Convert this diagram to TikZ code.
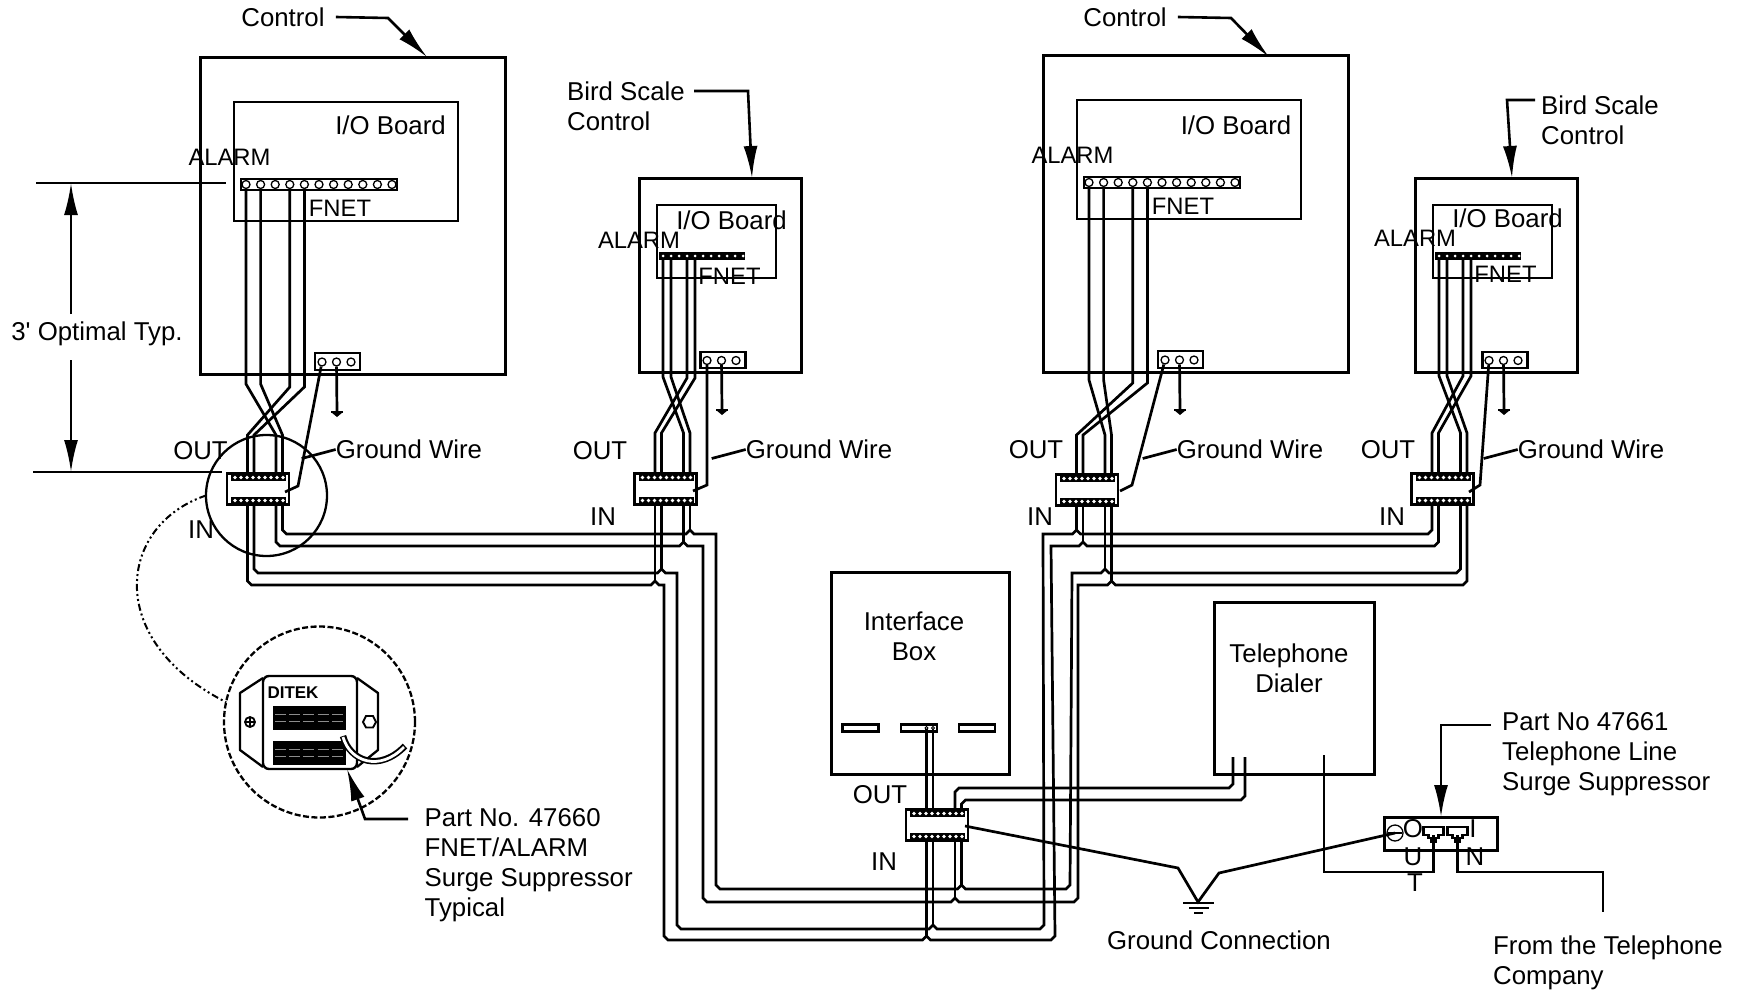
\documentclass[tikz,border=0pt]{standalone}
\usepackage{fontspec}
\setmainfont{Liberation Sans}
\usetikzlibrary{arrows.meta}

\newcommand{\hop}[2]{-- (#1-4,#2) -- (#1,#2-4) -- (#1+4,#2)}

\tikzset{
    lab/.style={inner sep=0pt, align=left, font=\fontsize{25.8}{30}\selectfont},
    smalllab/.style={inner sep=0pt, font=\fontsize{23.8}{28}\selectfont},
    wire/.style={line width=2.7pt, line join=miter},
    thinbox/.style={draw, line width=1.5pt, inner sep=0pt, outer sep=0pt},
    ctrlbox/.style={draw, line width=3pt, inner sep=0pt, outer sep=0pt},
    leader/.style={line width=2.6pt, -{Latex[length=32pt,width=14pt]}},
    bigpin/.style={circle, draw, fill=white, line width=1.3pt, inner sep=0pt, minimum size=8pt},
    tinypin/.style={circle, fill=white, inner sep=0pt, minimum size=3pt},
    surgebox/.style={draw, fill=white, line width=2.7pt, inner sep=0pt, minimum width=62pt, minimum height=31pt}
}

\begin{document}
\begin{tikzpicture}[x=1pt, y=-1pt]

\useasboundingbox (0,0) rectangle (1747,990);

\foreach \n/\dx/\dy/\tx/\ty in {1/0/0/0/0,3/843/-2/2.5/2}
{
    \begin{scope}[shift={(\dx,\dy)}]
    \node[ctrlbox, minimum width=305pt, minimum height=316pt] (ctrl\n) at (352.5,216) {};
    \node[thinbox, minimum width=224pt, minimum height=119pt] (io\n) at (346,161.5) {};
    \node[lab] (iotxt\n) at (390.5+\tx,125+\ty) {I/O Board};
    \node[smalllab] (alarm\n) at (229.5,157) {ALARM};
    \node[smalllab] (fnet\n) at (340,208) {FNET};
    \node[draw, line width=2.7pt, inner sep=0pt, minimum width=156pt, minimum height=11pt] (strip\n) at (319,184.5) {};
    \foreach \i in {1,...,11}
        \node[bigpin] (p\n-\i) at (231.4+14.6*\i,184.5) {};
    \node[draw, line width=2.7pt, inner sep=0pt, minimum width=45pt, minimum height=17pt] (gblock\n) at (337.5,361.5) {};
    \foreach \i in {1,2,3}
        \node[bigpin] (g\n-\i) at (307.5+14.5*\i,362) {};
    \draw[wire] (g\n-2) -- (337,412);
    \draw[wire] (331,412) -- (343,412);
    \fill (331,412) -- (343,412) -- (337,417) -- cycle;
    \end{scope}
}

\foreach \n/\dx/\gx/\ty in {2/0/0/0,4/776/6/-2}
{
    \begin{scope}[shift={(\dx,0)}]
    \node[ctrlbox, minimum width=162pt, minimum height=194pt] (ctrl\n) at (720,275) {};
    \node[thinbox, minimum width=119pt, minimum height=73pt] (io\n) at (716.5,241.5) {};
    \node[lab] (iotxt\n) at (731.5,220+\ty) {I/O Board};
    \node[smalllab] (alarm\n) at (639,240+\ty) {ALARM};
    \node[smalllab] (fnet\n) at (729.5,276+\ty) {FNET};
    \fill (659,252) rectangle (745,260);
    \foreach \i in {1,...,11}
        \node[tinypin] (p\n-\i) at (655+8*\i,256) {};
    \node[draw, line width=2.7pt, inner sep=0pt, minimum width=45pt, minimum height=16pt] (gblock\n) at (723+\gx,360) {};
    \foreach \i in {1,2,3}
        \node[bigpin] (g\n-\i) at (692.5+14.5*\i+\gx,360.5) {};
    \draw[wire] (g\n-2) -- (722+\gx,410);
    \draw[wire] (716+\gx,410) -- (728+\gx,410);
    \fill (716+\gx,410) -- (728+\gx,410) -- (722+\gx,415) -- cycle;
    \end{scope}
}

\foreach \n/\x/\y in {1/258/489,2/665.5/489,3/1087/490,4/1442.5/489,5/937/825}
{
    \coordinate (s\n-a) at (\x-10.5,\y-16);
    \coordinate (s\n-b) at (\x-4,\y-16);
    \coordinate (s\n-c) at (\x+18,\y-16);
    \coordinate (s\n-d) at (\x+24.5,\y-16);
    \coordinate (s\n-e) at (\x-10.5,\y+16);
    \coordinate (s\n-f) at (\x-4,\y+16);
    \coordinate (s\n-g) at (\x+18,\y+16);
    \coordinate (s\n-h) at (\x+24.5,\y+16);
}

\draw[wire] (p1-1) -- (246,384) -- (276,435) -- (s1-c);
\draw[wire] (p1-2) -- (260.6,384) -- (282.5,435) -- (s1-d);
\draw[wire] (p1-4) -- (289.8,387) -- (247.5,435) -- (s1-a);
\draw[wire] (p1-5) -- (304.4,387) -- (254,435) -- (s1-b);

\draw[wire] (p2-1) -- (663,377) -- (683.5,433) -- (s2-c);
\draw[wire] (p2-2) -- (671,377) -- (690,433) -- (s2-d);
\draw[wire] (p2-4) -- (687,378) -- (655,433) -- (s2-a);
\draw[wire] (p2-5) -- (695,378) -- (661.5,433) -- (s2-b);

\draw[wire] (p3-1) -- (1089,380) -- (1105,435) -- (s3-c);
\draw[wire] (p3-2) -- (1103.6,380) -- (1111.5,435) -- (s3-d);
\draw[wire] (p3-4) -- (1132.8,383) -- (1076.5,435) -- (s3-a);
\draw[wire] (p3-5) -- (1147.4,383) -- (1083,435) -- (s3-b);

\draw[wire] (p4-1) -- (1439,376) -- (1460.5,433) -- (s4-c);
\draw[wire] (p4-2) -- (1447,376) -- (1467,433) -- (s4-d);
\draw[wire] (p4-4) -- (1463,376) -- (1432,433) -- (s4-a);
\draw[wire] (p4-5) -- (1471,376) -- (1438.5,433) -- (s4-b);

\draw[wire] (s1-h) -- (282.5,530) -- (286.5,534) \hop{690}{534} -- (716,534) -- (716,885) -- (720,889) \hop{961.5}{889} -- (1066,889) -- (1070,885) -- (1072,573) \hop{1105}{573} -- (1456.5,573) -- (1460.5,569) -- (s4-g);
\draw[wire] (s1-g) -- (276,542) -- (280,546) \hop{683.5}{546} -- (703,546) -- (703,898) -- (707,902) \hop{955}{902} -- (1074,902) -- (1078,898) -- (1078,585) \hop{1111.5}{585} -- (1463,585) -- (1467,581) -- (s4-h);
\draw[wire] (s1-f) -- (254,569) -- (258,573) \hop{661.5}{573} -- (677,573) -- (677,925) -- (681,929) \hop{933}{929} -- (1040,929) -- (1044,925) -- (1043,534) \hop{1076.5}{534} -- (1428,534) -- (1432,530) -- (s4-e);
\draw[wire] (s1-e) -- (247.5,581) -- (251.5,585) \hop{655}{585} -- (664,585) -- (664,936) -- (668,940) \hop{926.5}{940} -- (1051,940) -- (1055,936) -- (1051,546) \hop{1083}{546} -- (1434.5,546) -- (1438.5,542) -- (s4-f);

\foreach \a/\b/\y in {s2-e/655/581,s2-f/661.5/569,s2-g/683.5/542,s2-h/690/530,s3-e/1076.5/530,s3-f/1083/542,s3-g/1105/569,s3-h/1111.5/581,s5-e/926.5/936,s5-f/933/925,s5-g/955/898,s5-h/961.5/885}
    \draw[wire] (\a) -- (\b,\y);

\node[ctrlbox, minimum width=178pt, minimum height=202pt] (iface) at (920,673) {};
\node[lab, align=center] (ifacetxt) at (914,636) {Interface\\[0pt]Box};
\node[draw, line width=2.6pt, inner sep=0pt, minimum width=36pt, minimum height=7pt] (slot1) at (860.5,728) {};
\node[draw, line width=2.6pt, inner sep=0pt, minimum width=36pt, minimum height=7pt] (slot2) at (919,728) {};
\node[draw, line width=2.6pt, inner sep=0pt, minimum width=36pt, minimum height=7pt] (slot3) at (977,728) {};
\draw[wire] (926.5,728) -- (s5-a);
\draw[wire] (933,728) -- (s5-b);
\node[tinypin, draw=black, line width=0.8pt] (slotpin1) at (926.5,728) {};
\node[tinypin, draw=black, line width=0.8pt] (slotpin2) at (933,728) {};

\node[ctrlbox, minimum width=160pt, minimum height=172pt] (dialer) at (1294,688) {};
\node[lab, align=center] (dialertxt) at (1289,668) {Telephone\\[0pt]Dialer};

\coordinate (dial1) at (1233,757);
\coordinate (dial2) at (1245,757);
\coordinate (dial3) at (1324,755);
\draw[wire] (s5-c) -- (955,792) -- (959,788) -- (1229,788) -- (1233,784) -- (dial1);
\draw[wire] (s5-d) -- (961.5,804) -- (965.5,800) -- (1241,800) -- (1245,796) -- (dial2);

\foreach \n/\x/\y in {1/258/489,2/665.5/489,3/1087/490,4/1442.5/489,5/937/825}
{
    \node[surgebox] (s\n) at (\x,\y) {};
    \fill (\x-27,\y-15) rectangle (\x+28,\y-8);
    \fill (\x-27,\y+8) rectangle (\x+28,\y+15);
    \foreach \i in {0,...,8}
    {
        \fill[white] (\x-23+6*\i,\y-11.5) circle (1.8pt);
        \fill[white] (\x-23+6*\i,\y+11.5) circle (1.8pt);
    }
}

\draw[wire] (g1-1) -- (298,486) -- (285,492);
\draw[wire] (g2-1) -- (707,485) -- (693,491);
\draw[wire] (g3-1) -- (1132,485) -- (1120,491);
\draw[wire] (g4-1) -- (1480,485) -- (1469,492);

\node[lab] (gw1) at (409,449.5) {Ground Wire};
\node[lab] (gw2) at (819,449.5) {Ground Wire};
\node[lab] (gw3) at (1250,449.5) {Ground Wire};
\node[lab] (gw4) at (1591,449.5) {Ground Wire};
\foreach \n in {1,2,3,4}
    \draw[wire] (gw\n.west) -- +(-34,9);

\foreach \n/\x/\y in {1/200.5/451,2/600/451,3/1036/450,4/1388/450,5/880/795}
    \node[lab] (out\n) at (\x,\y) {OUT};
\foreach \n/\x/\y in {1/201/530,2/603/517,3/1040/517,4/1392/517,5/884/862}
    \node[lab] (in\n) at (\x,\y) {IN};

\node[lab] (ctrltxt1) at (283,17) {Control};
\node[lab] (ctrltxt3) at (1125,17) {Control};
\draw[leader] (ctrltxt1.east) ++(11,0) -- (388,18) -- (427,57);
\draw[leader] (ctrltxt3.east) ++(11,0) -- (1231,18) -- (1269,57);

\node[lab, anchor=west] (bird2) at (567,106) {Bird Scale\\[0pt]Control};
\node[lab, anchor=west] (bird4) at (1541,120) {Bird Scale\\[0pt]Control};
\draw[leader] (694,91) -- (748,91) -- (ctrl2.north -| 752,0);
\draw[leader] (1535,100) -- (1507,100) -- (ctrl4.north -| 1512,0);

\coordinate (dimtop) at (36,183);
\coordinate (dimbot) at (33,472);
\draw[wire] (dimtop) -- (226,183);
\draw[wire] (dimbot) -- (222,472);
\node[lab] (dimtxt) at (97,334) {3\textquotesingle{} Optimal Typ.};
\draw[leader] (71,314) -- (71,183);
\draw[leader] (71,360) -- (71,472);

\node[circle, draw, line width=2.3pt, inner sep=0pt, outer sep=0pt, minimum size=121pt] (loupe) at (266.5,495.5) {};
\node[circle, draw, line width=2.3pt, dash pattern=on 6pt off 2.5pt, inner sep=0pt, outer sep=0pt, minimum size=191pt] (detail) at (319.5,722) {};
\draw[line width=2pt, dash pattern=on 7pt off 3pt on 2pt off 3pt on 2pt off 3pt] (loupe.west) .. controls (118,525) and (103,640) .. (detail.168);

\draw[line width=2.3pt, line join=round] (263,678) -- (240,693) -- (240,750) -- (263,767);
\draw[line width=2.3pt, line join=round] (357,678) -- (378,693) -- (378,750) -- (357,767);
\node[draw, line width=2.4pt, rounded corners=6pt, inner sep=0pt, outer sep=0pt, minimum width=94pt, minimum height=93pt] (ditek) at (310,722.5) {};
\node[inner sep=0pt, font=\fontsize{17}{20}\selectfont\bfseries] (ditektxt) at (293,693) {DITEK};
\foreach \y in {706,741}
{
    \fill (273,\y) rectangle (346,\y+24);
    \foreach \i in {0,...,4}
    {
        \draw[black!45, line width=0.8pt] (275+14.2*\i,\y+8) -- (286+14.2*\i,\y+8);
        \draw[black!45, line width=0.8pt] (275+14.2*\i,\y+15) -- (286+14.2*\i,\y+15);
    }
}
\draw[line width=1.2pt] (245,722) -- (255,722);
\draw[line width=1.2pt] (250,717) -- (250,727);
\draw[line width=1.8pt] (250,722) circle (5pt);
\draw[line width=1.9pt] (363,722) -- (366,716) -- (373,716) -- (376,722) -- (373,727.5) -- (366,727.5) -- cycle;
\draw[line width=6.5pt] (343,736) .. controls (350,762) and (380,772) .. (405,746);
\draw[white, line width=2.8pt] (343,737) .. controls (350,762) and (380,772) .. (404,747);

\node[lab, anchor=west] (part1) at (424.5,865) {Part No. 47660\\[0pt]FNET/ALARM\\[0pt]Surge Suppressor\\[0pt]Typical};
\draw[leader] (408,819) -- (365,819) -- (ditek.south -| 347,0);

\node[ctrlbox, minimum width=113pt, minimum height=33pt] (tsurge) at (1440.5,833.5) {};
\node[circle, draw, line width=1.3pt, inner sep=0pt, minimum size=16pt] (screw) at (1395,833) {};
\foreach \n/\x in {1/1433.5,2/1457.5}
{
    \draw[line width=2.1pt] (\x-10,827) -- (\x+10,827) -- (\x+10,835) -- (\x+5,835) -- (\x+5,838) -- (\x+2,838) -- (\x+2,842) -- (\x-2,842) -- (\x-2,838) -- (\x-5,838) -- (\x-5,835) -- (\x-10,835) -- cycle;
    \coordinate (jack\n) at (\x,835);
}
\draw[wire] (dial3) -- (1324,872) -- (1433.5,872) -- (jack1);
\draw[wire] (jack2) -- (1457.5,872) -- (1603,872) -- (1603,912);
\node[lab] (ltO) at (1413,829) {O};
\node[lab] (ltI) at (1473,829) {I};
\node[lab] (ltU) at (1413,857) {U};
\node[lab] (ltN) at (1475,857) {N};
\node[lab] (ltT) at (1415,883) {T};

\node[lab, anchor=west] (part2) at (1502,754) {Part No 47661\\[0pt]Telephone Line\\[0pt]Surge Suppressor};
\draw[leader] (1491,725) -- (1441,725) -- (tsurge.north -| 1441,0);

\coordinate (gnd) at (1198,902);
\draw[wire] (965,826) -- (1178,868) -- (gnd) -- (1219,873) -- (screw.center);
\draw[line width=1.3pt] (1388,833) -- (1402,833);
\draw[wire] (1183,903) -- (1214,903);
\draw[wire] (1189,908) -- (1209,908);
\draw[wire] (1194,913) -- (1203,913);

\node[lab] (gndtxt) at (1219,940) {Ground Connection};
\node[lab, anchor=west] (phone) at (1493,962.5) {From the Telephone\\[0pt]Company};

\end{tikzpicture}
\end{document}
